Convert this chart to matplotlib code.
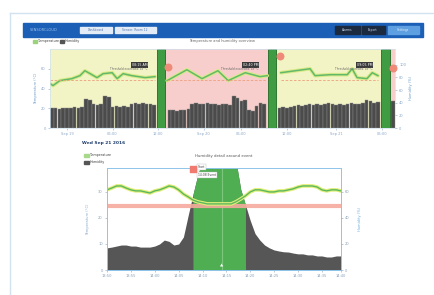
import matplotlib.pyplot as plt
from matplotlib.patches import Rectangle
import numpy as np

W, H = 435, 295
nan = np.nan

# ---- overview chart (one slot per interval) ----
humidity_bars = [20, 20, 19, 20, 20, 20, 21, 20, 21, 29, 28, 24, 23, 24, 32, 31, 21, 22, 21, 22, 21, 24, 25, 24, 25, 24, 24, 23,
                 nan, nan, nan,
                 18, 18, 17, 18, 18, 19, 24, 25, 24, 24, 25, 24, 24, 23, 24, 24, 23, 32, 30, 27, 28, 18, 17, 22, 25, 24,
                 nan, nan, nan,
                 20, 21, 20, 21, 22, 23, 22, 23, 24, 23, 24, 23, 24, 25, 24, 23, 24, 23, 24, 25, 24, 24, 25, 28, 27, 25, 26,
                 nan, nan, nan,
                 27]
zone_start = [-0.5, 28.7, 58.0, 88.0]
zone_end = [28.7, 58.0, 88.0, 90.5]
zone_state = ['ok', 'alarm', 'ok', 'alarm']
event_slot = [28.7, 58.0, 88.0]
event_mark_slot = [30.6, 60.2, 90.0]
event_mark_val = [62, 73, 61]
event_labels = ['08:15 AM', '02:40 PM', '09:05 PM']

temp_seg1_x = [-0.5, 0.3, 2.1, 5.3, 7.4, 8.7, 10.1, 11.9, 13.5, 15.9, 17.2, 18.8, 21.1, 24.6, 27.2]
temp_seg1_y = [45, 43, 48, 50, 53, 58, 55, 51, 55, 56, 50, 55, 53, 51, 52]
temp_seg2_x = [30.4, 35.6, 39.6, 43.8, 46.5, 51, 54.9, 56.8]
temp_seg2_y = [48, 59, 50, 58, 48, 56, 52, 53]
temp_seg3_x = [60.4, 68.1, 69.4, 73.4, 77.9, 79.2, 80.5, 83.1, 84.5, 86]
temp_seg3_y = [56, 60, 53, 54, 54, 60, 51, 50, 56, 53]
temp_limit = 49

overview_ticks = [4, 16, 28, 40, 50, 62, 75, 87]
overview_ticklabels = ['Sep 19', '06:00', '12:00', 'Sep 20', '06:00', '12:00', 'Sep 21', '06:00']

# ---- detail chart ----
detail_hum = [8.5, 8.8, 9.2, 9.6, 9.6, 9.2, 9.2, 8.8, 8.8, 8.8,
              9.2, 10, 11.5, 11, 9.6, 10, 12.7, 21, 29, 36.5,
              42, 42, 42, 42, 42, 42, 42, 42, 31, 25,
              19, 14, 11.5, 9.6, 8.5, 7.7, 7.3, 7, 6.9, 6.5,
              6.2, 6.2, 5.8, 5.8, 5.4, 5.4, 5.0, 5.0, 5.4, 5.4]
detail_temp = [30.8, 31.5, 32.3, 32.3, 31.5, 30.8, 30.4, 30.4, 30.0, 29.6,
               30.4, 30.8, 31.5, 32.3, 31.9, 30.8, 29.2, 28.1, 26.9, 26.2,
               25.8, 25.4, 25.4, 25.4, 25.4, 25.4, 25.4, 26.2, 27.3, 28.5,
               30.0, 30.8, 30.8, 30.4, 30.0, 30.0, 30.4, 30.4, 30.8, 31.2,
               31.9, 32.3, 32.3, 32.3, 31.9, 30.8, 30.4, 30.8, 30.8, 30.4]
detail_limit = 24.6
event_start, event_end = 18, 29
detail_ticks = [0, 5, 10, 15, 20, 25, 30, 35, 40, 45, 49]
detail_ticklabels = ['13:50', '13:55', '14:00', '14:05', '14:10', '14:15', '14:20',
                     '14:25', '14:30', '14:35', '14:40']


def px_rect(x0, y0, x1, y1):
    return [x0 / W, 1 - y1 / H, (x1 - x0) / W, (y1 - y0) / H]


fig = plt.figure(figsize=(W / 100, H / 100), dpi=100)
fig.patch.set_facecolor('white')

# page decoration, in pixel coordinates
bg = fig.add_axes([0, 0, 1, 1], zorder=0)
bg.set_xlim(0, W)
bg.set_ylim(H, 0)
bg.axis('off')
bg.plot([10, W], [13, 13], color='#d3e2f1', lw=1)
bg.plot([10, 10], [13, H], color='#d3e2f1', lw=1)
bg.add_patch(Rectangle((23, 23), 400, 14, color='#1b5fb6'))
bg.text(30, 30, 'SENSORCLOUD', color='#9fc0ea', fontsize=2.6, va='center')
bg.add_patch(Rectangle((80, 27), 32, 6, color='#e3ebf7'))
bg.add_patch(Rectangle((115, 27), 41, 6, color='#e3ebf7'))
bg.text(96, 30, 'Dashboard', color='#5577aa', fontsize=2.2, ha='center', va='center')
bg.text(135, 30, 'Sensor: Room 12', color='#5577aa', fontsize=2.2, ha='center', va='center')
bg.add_patch(Rectangle((335, 26), 25, 8, color='#1c2a40'))
bg.add_patch(Rectangle((362, 26), 23, 8, color='#1c2a40'))
bg.add_patch(Rectangle((388, 26), 31, 8, color='#5d9fe0'))
bg.text(347, 30, 'Alarms', color='#d0d8e8', fontsize=2.2, ha='center', va='center')
bg.text(373, 30, 'Export', color='#d0d8e8', fontsize=2.2, ha='center', va='center')
bg.text(403, 30, 'Settings', color='#e8f1fb', fontsize=2.2, ha='center', va='center')

bg.add_patch(Rectangle((33, 40), 4, 2.5, color='#9bd27c'))
bg.text(38, 41.2, 'Temperature', color='#444', fontsize=2.4, va='center')
bg.add_patch(Rectangle((60, 40), 4, 2.5, color='#555'))
bg.text(65, 41.2, 'Humidity', color='#444', fontsize=2.4, va='center')
bg.text(222, 41.2, 'Temperature and humidity overview', color='#666', fontsize=2.6,
        ha='center', va='center')

bg.text(82, 143, 'Wed Sep 21 2016', color='#1f3e6e', fontsize=3.2, fontweight='bold', va='center')
bg.add_patch(Rectangle((84, 154), 5, 2.5, color='#a7d98a'))
bg.text(90, 155.2, 'Temperature', color='#444', fontsize=2.4, va='center')
bg.add_patch(Rectangle((84, 161), 5, 2.5, color='#555'))
bg.text(90, 162.2, 'Humidity', color='#444', fontsize=2.4, va='center')
bg.text(224, 156, 'Humidity detail around event', color='#555', fontsize=2.8,
        ha='center', va='center')

# ---- overview chart ----
ax = fig.add_axes(px_rect(50, 49, 395, 128), zorder=1)
slots = np.arange(len(humidity_bars))
zone_color = {'ok': '#f3f4c6', 'alarm': '#f7cecb'}
for s, e, st in zip(zone_start, zone_end, zone_state):
    ax.axvspan(s, e, color=zone_color[st], lw=0)
ax.bar(slots, humidity_bars, width=0.95, color='#4b4b4b', edgecolor='#8c8c8c', lw=0.3)
ax.bar(event_slot, [80] * len(event_slot), width=2.2, color='#3f9c42',
       edgecolor='#1f6b24', lw=0.6)
for xs, ys in [(temp_seg1_x, temp_seg1_y), (temp_seg2_x, temp_seg2_y), (temp_seg3_x, temp_seg3_y)]:
    ax.plot(xs, ys, color='#d8ea86', lw=2.6, solid_capstyle='round')
    ax.plot(xs, ys, color='#63b96a', lw=1.1)
    ax.plot([xs[0], xs[-1]], [temp_limit, temp_limit], color='#ef9d7a', lw=0.6, ls=(0, (3, 2)))
ax.scatter(event_mark_slot, event_mark_val, s=22, color='#f08a78', zorder=5, clip_on=False)
for s, e, lab in zip(zone_start[:3], event_slot, event_labels):
    ax.text(e - 3.5, 64, lab, fontsize=2.3, color='white', ha='right', va='center',
            bbox=dict(boxstyle='square,pad=0.25', fc='#3a3a3a', ec='none'))
    ax.text(e - 3.5, 60, 'Threshold exceeded: 49 °C', fontsize=2.0, color='#666',
            ha='right', va='center')
ax.set_xlim(-0.5, 90.5)
ax.set_ylim(0, 80)
ax.set_yticks([0, 20, 40, 60])
ax.set_xticks(overview_ticks)
ax.set_xticklabels(overview_ticklabels)
ax.tick_params(labelsize=2.6, colors='#8aa8c8', length=1.5, width=0.4, pad=1.5)
for sp in ax.spines.values():
    sp.set_color('#cfe0ef')
    sp.set_linewidth(0.5)
ax.set_ylabel('Temperature (°C)', fontsize=2.6, color='#6a9bc9', labelpad=2)
ax2 = ax.twinx()
ax2.set_ylim(0, 125)
ax2.set_yticks([0, 20, 40, 60, 80, 100])
ax2.tick_params(labelsize=2.6, colors='#8aa8c8', length=1.5, width=0.4, pad=1.5)
ax2.set_ylabel('Humidity (%)', fontsize=2.6, color='#6a9bc9', labelpad=2)
for sp in ax2.spines.values():
    sp.set_visible(False)

# ---- detail chart ----
bx = fig.add_axes(px_rect(107, 168, 341, 270), zorder=1)
idx = np.arange(len(detail_hum))
hum = np.array(detail_hum)
bx.fill_between(idx, 0, hum, color='#565656', lw=0)
in_event = (idx >= event_start) & (idx <= event_end)
bx.fill_between(idx, 0, hum, where=in_event, color='#4fae52', lw=0)
bx.axvline((event_start + event_end) / 2 + 0.5, color='#8fd08f', lw=0.8, alpha=0.7)
bx.axhline(detail_limit, color='#f6aa9c', lw=3, alpha=0.9)
bx.plot(idx, detail_temp, color='#e2ee78', lw=2.6)
bx.plot(idx, detail_temp, color='#5cb85f', lw=1.0)
bx.scatter([event_start], [39], s=14, marker='s', color='#f07a70', zorder=6, clip_on=False)
bx.text(event_start + 1, 39.5, 'Start', fontsize=2.2, color='#444', va='center',
        bbox=dict(boxstyle='square,pad=0.3', fc='white', ec='#bbb', lw=0.3))
bx.text(event_start + 1, 36.5, '14:08 Event', fontsize=2.2, color='#444', va='center',
        bbox=dict(boxstyle='square,pad=0.3', fc='white', ec='#bbb', lw=0.3))
bx.text((event_start + event_end) / 2 + 0.5, 1.8, '▲', fontsize=3, color='white',
        ha='center', va='center')
bx.set_xlim(0, len(detail_hum) - 1)
bx.set_ylim(0, 39.2)
bx.set_yticks([0, 10, 20, 30])
bx.set_xticks(detail_ticks)
bx.set_xticklabels(detail_ticklabels)
bx.tick_params(labelsize=2.6, colors='#8aa0b8', length=1.5, width=0.4, pad=1.5)
for sp in bx.spines.values():
    sp.set_color('#8ec5ea')
    sp.set_linewidth(0.7)
bx.set_ylabel('Temperature (°C)', fontsize=2.6, color='#8aa8c8', labelpad=6)
bx2 = bx.twinx()
bx2.set_ylim(0, 78.4)
bx2.set_yticks([0, 20, 40, 60])
bx2.tick_params(labelsize=2.6, colors='#8aa0b8', length=1.5, width=0.4, pad=1.5)
bx2.set_ylabel('Humidity (%)', fontsize=2.6, color='#6ab0e0', labelpad=6)
for sp in bx2.spines.values():
    sp.set_visible(False)

fig.savefig('out.png', dpi=100)
